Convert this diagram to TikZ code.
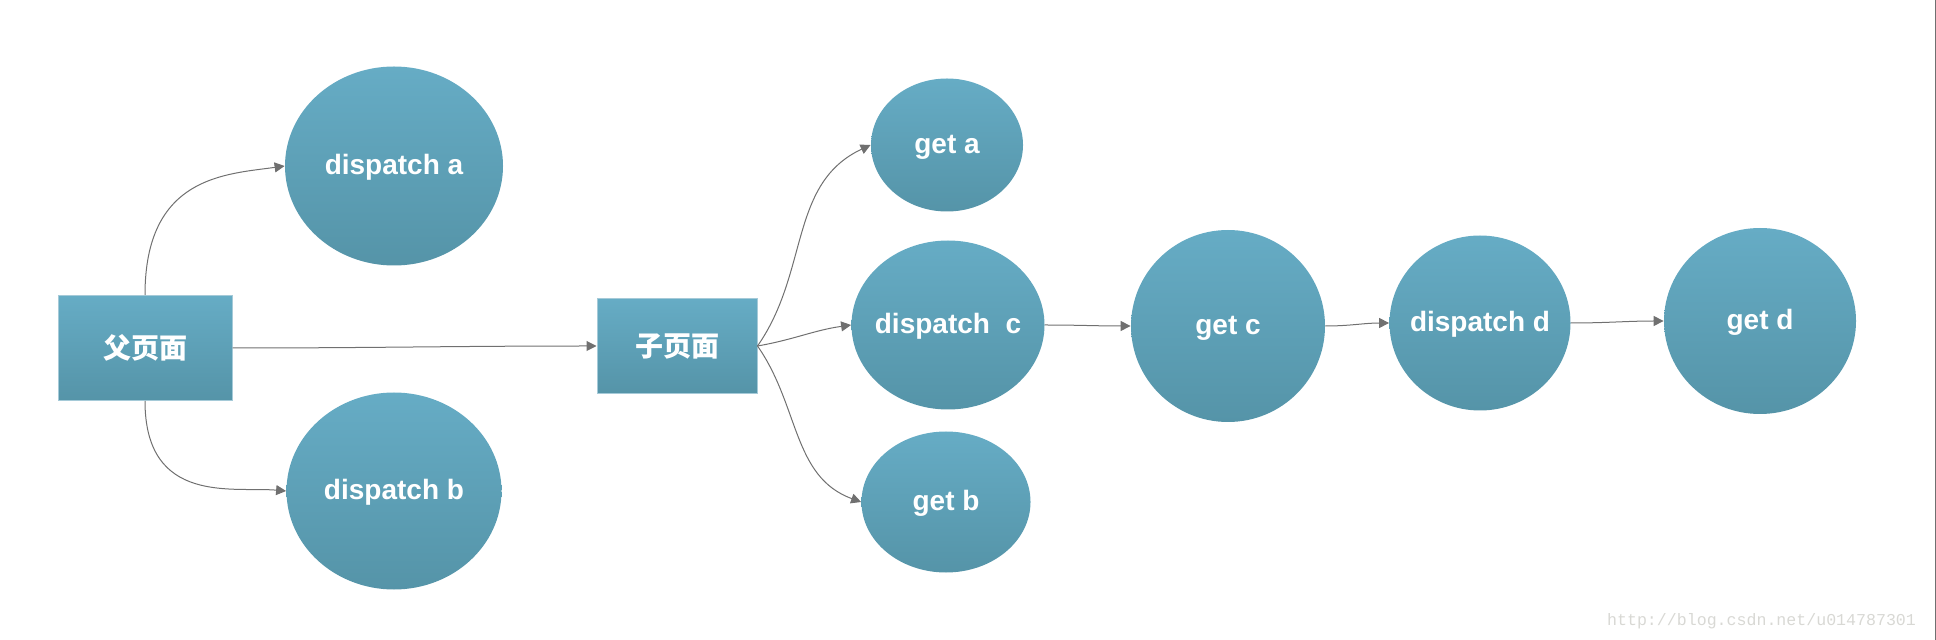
\documentclass[tikz,border=0pt]{standalone}
\usepackage{fontspec}
\setmainfont{Liberation Sans}
\newfontfamily\cjk{Noto Sans CJK SC}
\newfontfamily\wmfont{Liberation Mono}
\usetikzlibrary{shapes.geometric,arrows.meta}
\definecolor{nodetop}{RGB}{102,172,197}
\definecolor{nodebot}{RGB}{85,148,168}
\definecolor{boxedge}{RGB}{165,202,216}
\definecolor{linkgray}{RGB}{112,112,112}
\definecolor{markgray}{RGB}{216,216,212}
\newcommand{\steptext}[1]{\makebox[0pt]{#1}} % keep the ellipse at its own size
\tikzset{
  page/.style={ % image of a page
    rectangle, draw=boxedge, line width=0.5pt,
    top color=nodetop, bottom color=nodebot,
    inner sep=0pt, text=white, font=\cjk\bfseries\fontsize{14}{16}\selectfont
  },
  evt/.style={ % image of a dispatch / get step
    ellipse, inner sep=0pt, text height=11.5pt, text depth=3pt,
    top color=nodetop, bottom color=nodebot,
    text=white, font=\bfseries\fontsize{14}{16}\selectfont
  },
  link/.style={
    draw=linkgray, line width=0.5pt,
    -{Triangle[length=5pt,width=5pt]}
  }
}
\begin{document}
\begin{tikzpicture}[x=0.5pt,y=-0.5pt]
  \useasboundingbox (0,0) rectangle (1936,640);

  \node[page,minimum width=87pt,minimum height=52.5pt] (parent) at (145,348) {父页面};
  \node[page,minimum width=80pt,minimum height=47.5pt] (child) at (677,346) {子页面};

  \node[evt,minimum width=109pt,minimum height=99.5pt] (da) at (394,166) {\steptext{dispatch a}};
  \node[evt,minimum width=107.5pt,minimum height=98.5pt] (db) at (394,491) {\steptext{dispatch b}};
  \node[evt,minimum width=76pt,minimum height=66.5pt] (ga) at (947,145) {\steptext{get a}};
  \node[evt,minimum width=96.5pt,minimum height=84.5pt] (dc) at (948,325) {\steptext{dispatch\ \ c}};
  \node[evt,minimum width=84.5pt,minimum height=70.5pt] (gb) at (946,502) {\steptext{get b}};
  \node[evt,minimum width=97pt,minimum height=96pt] (gc) at (1228,326) {\steptext{get c}};
  \node[evt,minimum width=90.5pt,minimum height=87.5pt] (dd) at (1480,323) {\steptext{dispatch d}};
  \node[evt,minimum width=96pt,minimum height=93pt] (gd) at (1760,321) {\steptext{get d}};

  \node[anchor=east,text=markgray,font=\wmfont\fontsize{8.3}{10}\selectfont] (mark) at (1923,621) {http://blog.csdn.net/u014787301};

  \draw[link] (parent.north) to[out=90,in=188,out looseness=1.6,in looseness=0.8] (da.west);
  \draw[link] (parent.south) to[out=-90,in=175,out looseness=1.6,in looseness=0.8] (db.west);
  \draw[link] (parent.east) to[out=0,in=180] (child.west);

  \draw[link] (child.east) to[out=55,in=205] (ga.west);
  \draw[link] (child.east) to[out=10,in=188] (dc.west);
  \draw[link] (child.east) to[out=-55,in=160] (gb.west);

  \draw[link] (dc.east) to[out=0,in=180] (gc.west);
  \draw[link] (gc.east) to[out=0,in=180] (dd.west);
  \draw[link] (dd.east) to[out=0,in=180] (gd.west);

  \draw[linkgray,line width=0.5pt] (1935.5,0) -- (1935.5,640);
\end{tikzpicture}
\end{document}
